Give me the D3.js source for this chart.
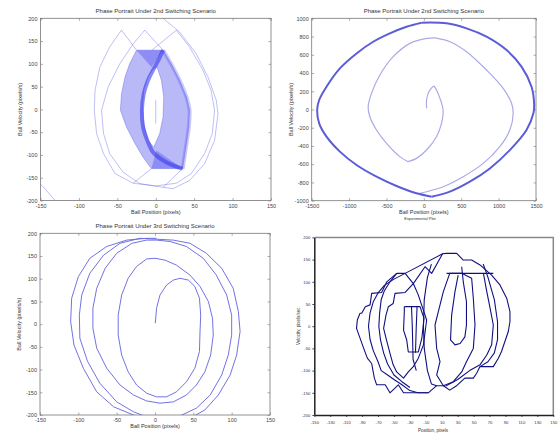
<!DOCTYPE html>
<html>
<head>
<meta charset="utf-8">
<script src="https://cdn.jsdelivr.net/npm/d3@7"></script>
<style>
body{margin:0;background:#fff}
svg{display:block}
text{font-family:Arial,"Liberation Sans",sans-serif}
</style>
</head>
<body>
<div id="chart"></div>
<script>
// ---------- data ----------
// panel 1 : 2nd switching scenario, position (px) vs velocity (px/s)
var p1FillOuter = [[-25,130],[9.5,130],[20,100],[31,64],[40,27],[44,-2],[43,-39],[40,-75],[35,-130],[-5.6,-130],[-16.5,-105],[-27,-75],[-38,-39],[-46,-2],[-44.6,34],[-40,71],[-34,100]];
var p1FillHole = [[1.7,93],[7.4,64],[10.4,27],[9.5,-17],[5.2,-53],[-2.6,-83],[-10,-68],[-15.6,-31.5],[-17.3,5],[-15.6,42],[-10,71],[-3.5,89]];
var p1DarkBand = [[9.5,130],[4.3,111],[-2.6,89],[-10,64],[-15.6,34],[-18,-2],[-16.5,-39],[-11,-68],[-3.5,-94],[9.5,-112],[22.5,-123],[35,-130]];
var p1RightEdge = [[9.5,130],[20,100],[31,64],[40,27],[44,-2],[43,-39],[40,-75],[35,-130]];
var p1TopTri = [[-25,130],[9.5,130],[-5.6,93]];
var p1BotTri = [[-5.6,-130],[35,-130],[0.9,-90]];
var p1ArcA1 = [[-25,130],[-44.6,174],[-60,137],[-72.7,93],[-79,42],[-80,-2],[-77,-53],[-68,-97],[-53,-141],[-29.4,-162],[-5.6,-130]];
var p1ArcA2 = [[9.5,130],[-14.3,174],[-29.4,144],[-46.8,100],[-62,49],[-70.6,-2],[-68,-53],[-60,-97],[-42.4,-138],[-20.8,-163],[9.5,-171],[35,-130]];
var p1ArcB1 = [[-5,130],[26.8,174],[44,137],[61.5,86],[72,42],[76.6,-2],[73.6,-53],[63.6,-97],[46.3,-141],[26.8,-162],[0,-168],[-29.4,-162]];
var p1ArcB2 = [[9.5,200],[31,170],[52.8,122],[68,71],[78.8,20],[81,-9.5],[76.6,-68],[63.6,-119],[44,-156],[22.5,-174],[9.5,-171]];
var p1Corner = [[-160,-150],[-148,-167],[-131,-200],[-125,-210]];
var p1Start = [[0,20],[0,-31]];

// panel 2 : 2nd switching scenario, wide range (limit cycle split at its two tips)
var p2OuterLeft = [[-31,952],[-232,908],[-455,835],[-678,743],[-900,615],[-1123,451],[-1302,250],[-1400,104],[-1427,-5],[-1400,-152],[-1302,-298],[-1123,-462],[-900,-609],[-633,-737],[-366,-839],[-98,-919],[103,-956]];
var p2OuterRight = [[103,-956],[348,-901],[615,-792],[883,-646],[1150,-445],[1373,-225],[1465,-42],[1475,60],[1440,250],[1306,470],[1106,652],[838,799],[571,890],[303,945],[-31,952]];
var p2InnerA = [[36,13],[36,104],[58,177],[95,230],[134,258]];
var p2InnerB = [[134,258],[169,214],[223,104],[258,-5],[236,-152],[169,-298],[36,-444],[-98,-536],[-210,-572]];
var p2InnerC = [[-210,-572],[-321,-517],[-499,-371],[-633,-225],[-722,-79],[-745,31],[-700,177],[-588,378],[-410,579],[-187,725],[40,780],[150,785]];
var p2InnerD = [[150,785],[348,743],[571,634],[838,433],[1061,232],[1173,68],[1195,-42],[1150,-225],[1016,-408],[794,-591],[526,-737],[259,-847],[36,-902],[-53,-920]];

// panel 3 : 3rd switching scenario, spiral
var p3Spiral = [[0.4,2],[2,35],[6.5,64],[15,86],[24,97],[32.6,101],[43.5,97],[52,83],[58,57],[59.6,20],[58.7,-17],[58,-60],[52,-97],[41,-127],[28,-149],[15,-160],[2,-160],[-11,-152],[-24,-134],[-35,-105],[-43.5,-68],[-48,-24],[-48,20],[-43.5,64],[-35,101],[-24,127],[-11,143.5],[0,145],[13,141],[28,130],[45.6,108],[58.7,83],[69.6,50],[75,13],[76,-24],[72.6,-68],[65,-105],[54,-134],[41,-156],[24,-171],[6.5,-174],[-11,-169],[-28,-156],[-45.6,-134],[-63,-97],[-76,-53],[-81,-9],[-81,35],[-76,79],[-65,123],[-50,156],[-30,178],[-11,185],[2,185],[19.6,182],[41,171],[63,145],[80,108],[93.5,64],[100,20],[100,-24],[95.6,-68],[87,-112],[72,-156],[54,-185],[35,-200],[15,-211],[-6.5,-207],[-28,-193],[-50,-171],[-72,-130],[-88,-82],[-98,-31],[-98.7,20],[-95.6,64],[-85,112],[-67,152],[-45.6,178],[-19.6,189],[2,187],[24,185],[45.6,178],[67,156],[87,123],[102,79],[108.7,28],[111,-16],[106.5,-68],[98,-112],[82.6,-156],[65,-189],[45.6,-207],[24,-215],[-2,-211],[-28,-200],[-54,-182],[-76,-149],[-93.5,-97],[-105.7,-46],[-110,5.5],[-108.7,57],[-100,104.6],[-85,145],[-63,171],[-37,185],[-11,189],[2,189]];

// panel 4 : experimental plot
var p4Outer = [[-46.6,119],[-59,100],[-65.5,76],[-78,74],[-80,48],[-86,44],[-90.5,29],[-92.6,29],[-96,14],[-97,-5],[-92.6,-27],[-88,-50],[-83.4,-72],[-78,-84],[-74.6,-117],[-71.7,-132],[-61,-132],[-55,-150],[-44.5,-132],[-38,-150],[-6.9,-150],[3.6,-134],[12,-134],[20,-144],[28.7,-134],[39,-117],[49.6,-117],[53.8,-106],[58,-91],[74.7,-91],[81,-72],[85,-57],[93.5,-12],[95.6,10],[95.6,33],[91.5,63],[83,93],[72.6,115],[58,138],[47.5,149],[37,149],[28.7,164],[16,164],[11,163],[-36,119],[-46.6,119]];
var p4TopZig = [[-36,119],[-25.7,96],[-11,134],[-2.7,119],[11,163]];
var p4LoopB = [[-36,119],[-50,106],[-62,92],[-70,75],[-76,55],[-80,30],[-82,0],[-80,-30],[-76,-55],[-70,-80],[-66,-100],[-58,-110],[-50,-120],[-40,-132],[-30,-145],[-20,-150],[-7,-150]];
var p4LoopC = [[-46.6,119],[-55,100],[-62,80],[-66,60],[-68,30],[-69,0],[-67,-30],[-63,-60],[-58,-85],[-50,-110],[-40,-125],[-30,-138]];
var p4LoopMid = [[-25.7,96],[-36,76],[-48.7,74],[-51,51],[-57,44],[-60,25],[-63,-5],[-60,-27],[-55,-61],[-51,-87],[-46.6,-103],[-38,-117],[-32,-103],[-25.7,-91],[-19.4,-72],[-13,-42],[-9,14],[-19.4,70],[-25.7,96]];
var p4Small = [[-37,44],[-17.3,44],[-12.3,18],[-15,-27],[-19.4,-58],[-32,-58],[-34,-31],[-38,-9],[-37,33],[-37,44]];
var p4Vert1 = [[-28,44],[-27,0],[-26,-75],[-22,-100]];
var p4Vert2 = [[-21,44],[-22,0],[-23,-60]];
var p4Mid2 = [[-3,140],[-8,110],[-12,60],[-13,0],[-12,-50],[-8,-100],[-3,-130],[3.6,-134]];
var p4Center = [[1.5,2.7],[5.7,33],[12,78],[20,119],[35,119],[47.5,108],[49.6,63],[51.7,2.7],[49.6,-50],[41,-80],[35,-103],[24.5,-125],[12,-134],[3.6,-110],[7.8,-80],[3.6,-50],[1.5,2.7]];
var p4Inner = [[35,134],[37,100],[41,55],[41,2.7],[39,-24],[33,-39],[26.6,-42],[21,-31],[22.4,25],[26.6,78],[30.6,115]];
var p4Flat = [[16,119],[74.7,119]];
var p4RightMid = [[62.3,119],[66.5,78],[70.7,40],[74.7,2.7],[72.6,-42],[66.5,-65],[58,-87],[45,-100],[30,-120],[15,-135]];
var p4Mid3 = [[62,140],[68,110],[76,60],[80,10],[80,-30],[76,-60],[68,-80],[58,-91]];

// ticks
var ticksPos150 = [-150,-100,-50,0,50,100,150];
var ticksVel200 = [-200,-150,-100,-50,0,50,100,150,200];
var ticksPos1500 = [-1500,-1000,-500,0,500,1000,1500];
var ticksVel1000 = [-1000,-800,-600,-400,-200,0,200,400,600,800,1000];
var ticksPosExp = [-150,-130,-110,-90,-70,-50,-30,-10,10,30,50,70,90,110,130,150];

// ---------- drawing ----------
var svg = d3.select("#chart").append("svg").attr("width",560).attr("height",440);

function panel(p){
  var x = d3.scaleLinear().domain(p.xd).range([p.l,p.r]);
  var y = d3.scaleLinear().domain(p.yd).range([p.b,p.t]);
  var g = svg.append("g");
  svg.append("clipPath").attr("id","clip"+p.id).append("rect")
    .attr("x",p.l).attr("y",p.t).attr("width",p.r-p.l).attr("height",p.b-p.t);
  var plot = g.append("g").attr("clip-path","url(#clip"+p.id+")");
  var line = d3.line().x(function(d){return x(d[0]);}).y(function(d){return y(d[1]);});
  var smooth = d3.line().curve(d3.curveCatmullRom).x(function(d){return x(d[0]);}).y(function(d){return y(d[1]);});
  return {x:x,y:y,g:g,plot:plot,line:line,smooth:smooth,p:p};
}

function fmt(d){ return String(d); }

function matlabAxes(P, xt, yt, title, xl, yl){
  var p = P.p, g = P.g;
  var tk = 2.5;
  var styleAx = function(a){
    a.select(".domain").remove();
    a.selectAll("line").attr("stroke","#777").attr("stroke-width",0.6);
    a.selectAll("text").attr("font-size",5.5).attr("fill","#444").attr("font-family","Arial, sans-serif");
  };
  g.append("g").attr("transform","translate(0,"+p.b+")")
    .call(d3.axisBottom(P.x).tickValues(xt).tickSize(-tk).tickPadding(3.5).tickFormat(fmt)).call(styleAx);
  g.append("g").attr("transform","translate(0,"+p.t+")")
    .call(d3.axisTop(P.x).tickValues(xt).tickSize(-tk).tickFormat("")).call(styleAx);
  g.append("g").attr("transform","translate("+p.l+",0)")
    .call(d3.axisLeft(P.y).tickValues(yt).tickSize(-tk).tickPadding(3).tickFormat(fmt)).call(styleAx);
  g.append("g").attr("transform","translate("+p.r+",0)")
    .call(d3.axisRight(P.y).tickValues(yt).tickSize(-tk).tickFormat("")).call(styleAx);
  g.append("rect").attr("x",p.l).attr("y",p.t).attr("width",p.r-p.l).attr("height",p.b-p.t)
    .attr("fill","none").attr("stroke","#777").attr("stroke-width",0.8);
  g.append("text").text(title).attr("x",(p.l+p.r)/2).attr("y",p.t-5)
    .attr("text-anchor","middle").attr("font-size",6).attr("fill","#333");
  g.append("text").text(xl).attr("x",(p.l+p.r)/2).attr("y",p.b+13)
    .attr("text-anchor","middle").attr("font-size",5.5).attr("fill","#333");
  g.append("text").text(yl)
    .attr("transform","translate("+(p.l-19)+","+((p.t+p.b)/2)+") rotate(-90)")
    .attr("text-anchor","middle").attr("font-size",5.5).attr("fill","#333");
}

// panel 1
var P1 = panel({id:1,l:40.5,r:271,t:18.3,b:200.5,xd:[-150,150],yd:[-200,200]});
P1.plot.append("path").attr("d",P1.line(p1FillOuter)+"Z"+P1.line(p1FillHole)+"Z")
  .attr("fill","#7474f0").attr("fill-opacity",0.5).attr("fill-rule","evenodd")
  .attr("stroke","#5a5aee").attr("stroke-opacity",0.4).attr("stroke-width",1);
[p1TopTri,p1BotTri].forEach(function(t){
  P1.plot.append("path").attr("d",P1.line(t)+"Z").attr("fill","#4a4aee").attr("fill-opacity",0.4);
});
P1.plot.append("path").attr("d",P1.smooth(p1RightEdge)).attr("fill","none")
  .attr("stroke","#5050ee").attr("stroke-opacity",0.3).attr("stroke-width",4);
P1.plot.append("path").attr("d",P1.smooth(p1DarkBand)).attr("fill","none")
  .attr("stroke","#3a3aee").attr("stroke-opacity",0.6).attr("stroke-width",4);
[p1ArcA1,p1ArcA2,p1ArcB1,p1ArcB2,p1Corner,p1Start].forEach(function(c){
  P1.plot.append("path").attr("d",P1.line(c)).attr("fill","none")
    .attr("stroke","#5858ea").attr("stroke-opacity",0.38).attr("stroke-width",1);
});
matlabAxes(P1,ticksPos150,ticksVel200,"Phase Portrait Under 2nd Switching Scenario","Ball Position (pixels)","Ball Velocity (pixels/s)");

// panel 2
var P2 = panel({id:2,l:311.7,r:536,t:18.3,b:200.7,xd:[-1500,1500],yd:[-1000,1000]});
[p2InnerA,p2InnerB,p2InnerC,p2InnerD].forEach(function(c){
  P2.plot.append("path").attr("d",P2.smooth(c)).attr("fill","none")
    .attr("stroke","#aaaae6").attr("stroke-width",1.2);
});
[p2OuterLeft,p2OuterRight].forEach(function(c){
  P2.plot.append("path").attr("d",P2.smooth(c)).attr("fill","none")
    .attr("stroke","#5c5cd8").attr("stroke-width",2);
});
matlabAxes(P2,ticksPos1500,ticksVel1000,"Phase Portrait Under 2nd Switching Scenario","Ball Position (pixels)","Ball Velocity (pixels/s)");
P2.g.append("text").text("Experimental Plot").attr("x",420).attr("y",219.5)
  .attr("text-anchor","middle").attr("font-size",4).attr("fill","#333");

// panel 3
var P3 = panel({id:3,l:40,r:270,t:233.3,b:415,xd:[-150,150],yd:[-200,200]});
P3.plot.append("path").attr("d",P3.line(p3Spiral)).attr("fill","none")
  .attr("stroke","#6a6ae0").attr("stroke-width",0.95);
matlabAxes(P3,ticksPos150,ticksVel200,"Phase Portrait Under 3rd Switching Scenario","Ball Position (pixels)","Ball Velocity (pixels/s)");

// panel 4 (spreadsheet style)
var P4 = panel({id:4,l:314.3,r:553.3,t:237.4,b:415,xd:[-150,150],yd:[-200,200]});
[p4Outer,p4TopZig,p4LoopB,p4LoopC,p4LoopMid,p4Small,p4Vert1,p4Vert2,p4Mid2,p4Center,p4Inner,p4Flat,p4RightMid,p4Mid3].forEach(function(c){
  P4.plot.append("path").attr("d",P4.line(c)).attr("fill","none")
    .attr("stroke","#101080").attr("stroke-width",1.1).attr("stroke-linejoin","round");
});
(function(){
  var p = P4.p, g = P4.g;
  g.append("path").attr("d","M"+p.l+","+p.t+"H"+p.r+"V"+p.b)
    .attr("fill","none").attr("stroke","#888").attr("stroke-width",1.5);
  var sty = function(a){
    a.select(".domain").attr("stroke","#222").attr("stroke-width",1.5);
    a.selectAll(".tick line").attr("stroke","#222").attr("stroke-width",0.8);
    a.selectAll("text").attr("font-size",4.2).attr("fill","#333").attr("font-family","Arial, sans-serif");
  };
  g.append("g").attr("transform","translate(0,"+p.b+")")
    .call(d3.axisBottom(P4.x).tickValues(ticksPosExp).tickSize(2).tickSizeOuter(0).tickPadding(4).tickFormat(fmt)).call(sty);
  g.append("g").attr("transform","translate("+p.l+",0)")
    .call(d3.axisLeft(P4.y).tickValues(ticksVel200).tickSize(2).tickSizeOuter(0).tickPadding(2).tickFormat(fmt)).call(sty);
  g.append("text").text("Position, pixels").attr("x",433).attr("y",432)
    .attr("text-anchor","middle").attr("font-size",4.5).attr("fill","#333");
  g.append("text").text("Velocity, pixels/sec")
    .attr("transform","translate(300,"+((p.t+p.b)/2)+") rotate(-90)")
    .attr("text-anchor","middle").attr("font-size",4.5).attr("fill","#333");
})();
</script>
</body>
</html>
